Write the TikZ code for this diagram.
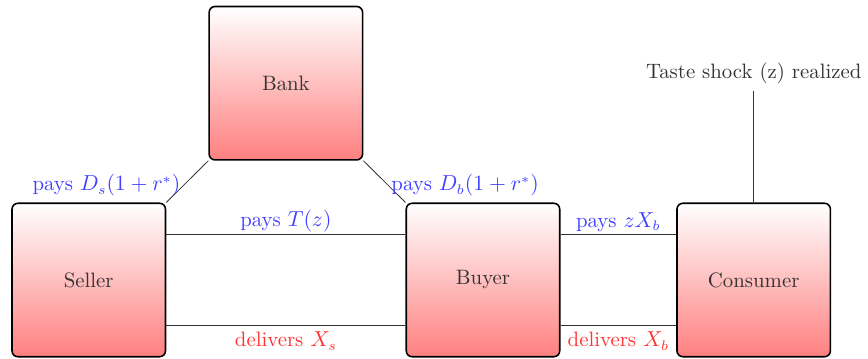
\documentclass[tikz,border=0pt]{standalone}
\usetikzlibrary{positioning, calc}

\begin{document}
\begin{tikzpicture}[
    font=\fontsize{10.5pt}{12.6pt}\selectfont,
    agent/.style={rectangle, draw=black, thick, rounded corners=3pt, minimum width=2.72cm, minimum height=2.72cm, top color=white, bottom color=red!50, text=black!80, align=center},
    link/.style={draw=black!80},
    paylabel/.style={text=blue!75},
    goodslabel/.style={text=red!80}
]

\node[agent] (seller) at (0,0) {Seller};
\node[agent, right=4.24cm of seller] (buyer) {Buyer};
\node[agent, right=2.05cm of buyer] (consumer) {Consumer};
\coordinate (mid) at ($(seller.north)!0.5!(buyer.north)$);
\node[agent, above=0.74cm of mid] (bank) {Bank};
\node[text=black!80, above=1.98cm of consumer] (shock) {Taste shock (z) realized};

\draw[link] (seller.north east) -- (bank.south west) node[midway, left, yshift=-2pt, paylabel] {pays $D_s(1+r^*)$};
\draw[link] (bank.south east) -- (buyer.north west) node[midway, right, yshift=-2pt, paylabel] {pays $D_b(1+r^*)$};
\draw[link] ([yshift=0.8cm]seller.east) -- ([yshift=0.8cm]buyer.west) node[midway, above=-2pt, paylabel] {pays $T(z)$};
\draw[link] ([yshift=-0.8cm]seller.east) -- ([yshift=-0.8cm]buyer.west) node[midway, below, goodslabel] {delivers $X_s$};
\draw[link] ([yshift=0.8cm]buyer.east) -- ([yshift=0.8cm]consumer.west) node[midway, above=-2pt, paylabel] {pays $zX_b$};
\draw[link] ([yshift=-0.8cm]buyer.east) -- ([yshift=-0.8cm]consumer.west) node[midway, below, goodslabel] {delivers $X_b$};
\draw[link] (consumer.north) -- (shock.south);

\useasboundingbox (-1.573,-1.399) rectangle (13.682,4.963);

\end{tikzpicture}
\end{document}
